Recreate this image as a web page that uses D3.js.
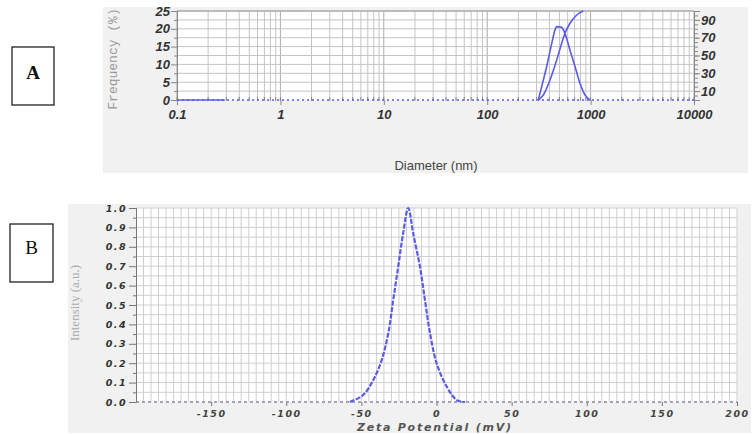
<!DOCTYPE html>
<html lang="en">
<head>
<meta charset="UTF-8">
<title>Particle size and zeta potential</title>
<script src="https://d3js.org/d3.v7.min.js"></script>
<style>
  body { margin: 0; background: #fff; }
  svg { display: block; }
  .lbl { font-family: "Liberation Sans", Arial, sans-serif; font-weight: bold; font-style: italic; }
  .lblB { font-family: "DejaVu Sans", Verdana, sans-serif; font-weight: bold; font-style: italic; }
</style>
</head>
<body>
<svg id="chart" width="754" height="434"></svg>
<script>
// ---- panel A: size distribution ----
const diamFreq = [312, 336, 376, 421, 453, 470, 525, 565, 632, 707, 789, 883, 986];
const freqVals = [0, 3.7, 9.4, 15.9, 19.7, 20.6, 20.4, 18.7, 14.0, 9.4, 4.7, 1.4, 0];
const diamCum = [312, 349, 405, 470, 525, 565, 632, 707, 789, 851];
const cumVals = [0, 5.6, 22.5, 44.9, 63.7, 74.9, 86.2, 93.6, 98.1, 100];
const diamLow = [0.1, 0.29];
const freqLow = [0, 0];
const xTicksA = [0.1, 1, 10, 100, 1000, 10000];
const yTicksA = [0, 5, 10, 15, 20, 25];
const yTicksA2 = [10, 30, 50, 70, 90];

// ---- panel B: zeta potential ----
const zeta = [-57.7, -48.8, -42.1, -36.5, -32.1, -28.8, -25.5, -22.2, -18.8, -15.5, -11, -7.7, -4.3, 0.1, 6.8, 13.5, 19];
const intensity = [0, 0.036, 0.113, 0.216, 0.354, 0.526, 0.697, 0.869, 1.0, 0.869, 0.697, 0.526, 0.354, 0.199, 0.079, 0.01, 0];
const xTicksB = [-150, -100, -50, 0, 50, 100, 150, 200];
const yTicksB = [0, 0.1, 0.2, 0.3, 0.4, 0.5, 0.6, 0.7, 0.8, 0.9, 1.0];

const svg = d3.select('#chart');
const blue = '#5b5be6';

// letter boxes
function letterBox(x, y, w, h, t, ty, bold) {
  svg.append('rect').attr('x', x).attr('y', y).attr('width', w).attr('height', h)
    .attr('fill', '#fff').attr('stroke', '#222').attr('stroke-width', 1.3);
  svg.append('text').attr('x', x + w / 2).attr('y', ty).attr('text-anchor', 'middle')
    .attr('font-family', '"Liberation Serif", "Times New Roman", serif').attr('font-size', 19)
    .attr('font-weight', bold ? 'bold' : 'normal').attr('fill', '#111').text(t);
}
letterBox(12, 47, 42, 58, 'A', 79, true);
letterBox(10, 224, 43, 58, 'B', 254, false);

// ================= panel A =================
svg.append('rect').attr('x', 103).attr('y', 7).attr('width', 645).attr('height', 166).attr('fill', '#f1f1f1');

const xA = d3.scaleLog().domain([0.1, 10000]).range([177, 694]);
const yA = d3.scaleLinear().domain([0, 25]).range([100, 11]);
const yA2 = d3.scaleLinear().domain([0, 100]).range([100, 11]);

const gA = svg.append('g');
gA.append('rect').attr('x', xA.range()[0]).attr('y', yA(25))
  .attr('width', xA.range()[1] - xA.range()[0]).attr('height', yA(0) - yA(25)).attr('fill', '#fff');

const logGrid = [];
for (let k = -1; k <= 3; k++) for (let m = 1; m <= 9; m++) logGrid.push(m * Math.pow(10, k));
logGrid.push(10000);
gA.selectAll('.vg').data(logGrid).enter().append('line')
  .attr('x1', d => xA(d)).attr('x2', d => xA(d)).attr('y1', yA(0)).attr('y2', yA(25))
  .attr('stroke', d => Math.abs(Math.log10(d) % 1) < 1e-9 ? '#aaa' : '#c4c4c4').attr('stroke-width', 1);
gA.selectAll('.hg').data(d3.range(2.5, 25.01, 2.5)).enter().append('line')
  .attr('x1', xA.range()[0]).attr('x2', xA.range()[1]).attr('y1', d => yA(d)).attr('y2', d => yA(d))
  .attr('stroke', '#c4c4c4');

// left axis
const axL = gA.append('g').attr('transform', `translate(${xA.range()[0]},0)`)
  .call(d3.axisLeft(yA).tickValues(yTicksA).tickSize(6).tickPadding(1));
axL.selectAll('text').attr('class', 'lbl').attr('font-size', 13).attr('fill', '#333');
axL.selectAll('line, path').attr('stroke', '#888');
gA.append('g').attr('transform', `translate(${xA.range()[0]},0)`)
  .call(d3.axisLeft(yA).tickValues(d3.range(2.5, 25, 5)).tickSize(3).tickFormat(''))
  .selectAll('line, path').attr('stroke', '#888');

// right axis
const axR = gA.append('g').attr('transform', `translate(${xA.range()[1]},0)`)
  .call(d3.axisRight(yA2).tickValues(yTicksA2).tickSize(6).tickPadding(1));
axR.selectAll('text').attr('class', 'lbl').attr('font-size', 13).attr('fill', '#333');
axR.selectAll('line, path').attr('stroke', '#888');
gA.append('g').attr('transform', `translate(${xA.range()[1]},0)`)
  .call(d3.axisRight(yA2).tickValues(d3.range(0, 101, 5)).tickSize(4).tickFormat(''))
  .selectAll('line, path').attr('stroke', '#888');

// top border
gA.append('line').attr('x1', xA.range()[0]).attr('x2', xA.range()[1]).attr('y1', yA(25)).attr('y2', yA(25)).attr('stroke', '#999');

// bottom axis labels + ticks
const axB = gA.append('g').attr('transform', `translate(0,${yA(0)})`)
  .call(d3.axisBottom(xA).tickValues(xTicksA).tickFormat(d => String(d)).tickSize(5).tickPadding(5));
axB.select('.domain').remove();
axB.selectAll('line').attr('stroke', '#888');
axB.selectAll('text').attr('class', 'lbl').attr('font-size', 13).attr('fill', '#333');
gA.selectAll('.mt').data(logGrid).enter().append('line')
  .attr('x1', d => xA(d)).attr('x2', d => xA(d)).attr('y1', yA(0) - 3).attr('y2', yA(0) + 1)
  .attr('stroke', '#888');
gA.append('line').attr('x1', xA(0.1)).attr('x2', xA(10000)).attr('y1', yA(0)).attr('y2', yA(0))
  .attr('stroke', blue).attr('stroke-width', 1.3).attr('stroke-dasharray', '2,3');

// curves
const lineLow = d3.line().x((d, i) => xA(diamLow[i])).y(d => yA(d));
gA.append('path').datum(freqLow).attr('d', lineLow).attr('fill', 'none').attr('stroke', blue).attr('stroke-width', 1.6);
const lineF = d3.line().x((d, i) => xA(diamFreq[i])).y(d => yA(d)).curve(d3.curveMonotoneX);
gA.append('path').datum(freqVals).attr('d', lineF).attr('fill', 'none').attr('stroke', blue).attr('stroke-width', 1.6);
const lineC = d3.line().x((d, i) => xA(diamCum[i])).y(d => yA2(d)).curve(d3.curveMonotoneX);
gA.append('path').datum(cumVals).attr('d', lineC).attr('fill', 'none').attr('stroke', blue).attr('stroke-width', 1.6);

// labels
svg.append('text').attr('transform', `translate(117,59) rotate(-90)`).attr('text-anchor', 'middle')
  .attr('font-family', '"Liberation Mono", "Courier New", monospace').attr('font-size', 13)
  .attr('fill', '#999').text('Frequency (%)');
svg.append('text').attr('x', 436).attr('y', 170).attr('text-anchor', 'middle')
  .attr('font-family', '"Liberation Sans", Arial, sans-serif').attr('font-size', 13)
  .attr('fill', '#444').text('Diameter (nm)');

// ================= panel B =================
svg.append('rect').attr('x', 68).attr('y', 204).attr('width', 683).attr('height', 229).attr('fill', '#f1f1f1');

const xB = d3.scaleLinear().domain([-200, 200]).range([136, 737]);
const yB = d3.scaleLinear().domain([0, 1]).range([402, 208]);
const gB = svg.append('g');
gB.append('rect').attr('x', xB(-200)).attr('y', yB(1)).attr('width', xB(200) - xB(-200))
  .attr('height', yB(0) - yB(1)).attr('fill', '#fff');
gB.selectAll('.vg').data(d3.range(-195, 201, 5)).enter().append('line')
  .attr('x1', d => xB(d)).attr('x2', d => xB(d)).attr('y1', yB(0)).attr('y2', yB(1))
  .attr('stroke', '#cfcfcf');
gB.selectAll('.hg').data(d3.range(0.05, 1.001, 0.05)).enter().append('line')
  .attr('x1', xB(-200)).attr('x2', xB(200)).attr('y1', d => yB(d)).attr('y2', d => yB(d))
  .attr('stroke', '#cfcfcf');

const axLB = gB.append('g').attr('transform', `translate(${xB(-200)},0)`)
  .call(d3.axisLeft(yB).tickValues(yTicksB).tickFormat(d3.format('.1f')).tickSize(7).tickPadding(2));
axLB.selectAll('line, path').attr('stroke', '#777');
axLB.selectAll('text').attr('class', 'lblB').attr('font-size', 9.5).attr('letter-spacing', 1.5).attr('fill', '#333');
gB.append('g').attr('transform', `translate(${xB(-200)},0)`)
  .call(d3.axisLeft(yB).tickValues(d3.range(0.05, 1, 0.1)).tickSize(3).tickFormat(''))
  .selectAll('line, path').attr('stroke', '#777');

const axBB = gB.append('g').attr('transform', `translate(0,${yB(0)})`)
  .call(d3.axisBottom(xB).tickValues(xTicksB).tickSize(4).tickPadding(4));
axBB.select('.domain').remove();
axBB.selectAll('line').attr('stroke', '#777');
axBB.selectAll('text').attr('class', 'lblB').attr('font-size', 9.5).attr('letter-spacing', 1.5).attr('fill', '#444')
  .text(d => d === 0 ? '0' : String(d));
gB.append('line').attr('x1', xB(-200)).attr('x2', xB(200)).attr('y1', yB(0)).attr('y2', yB(0))
  .attr('stroke', '#8888aa').attr('stroke-width', 1.3).attr('stroke-dasharray', '3,3');

const lineZ = d3.line().x((d, i) => xB(zeta[i])).y(d => yB(d)).curve(d3.curveCatmullRom);
gB.append('path').datum(intensity).attr('d', lineZ).attr('fill', 'none').attr('stroke', blue)
  .attr('stroke-width', 2.2).attr('stroke-dasharray', '5,1.5');

svg.append('text').attr('transform', `translate(79,303) rotate(-90)`).attr('text-anchor', 'middle')
  .attr('font-family', '"Liberation Serif", "Times New Roman", serif').attr('font-size', 13)
  .attr('fill', '#aaa').text('Intensity (a.u.)');
svg.append('text').attr('x', 434).attr('y', 431).attr('text-anchor', 'middle')
  .attr('class', 'lblB').attr('font-size', 11).attr('fill', '#555')
  .attr('textLength', 154).attr('lengthAdjust', 'spacing').text('Zeta Potential (mV)');
</script>
</body>
</html>
